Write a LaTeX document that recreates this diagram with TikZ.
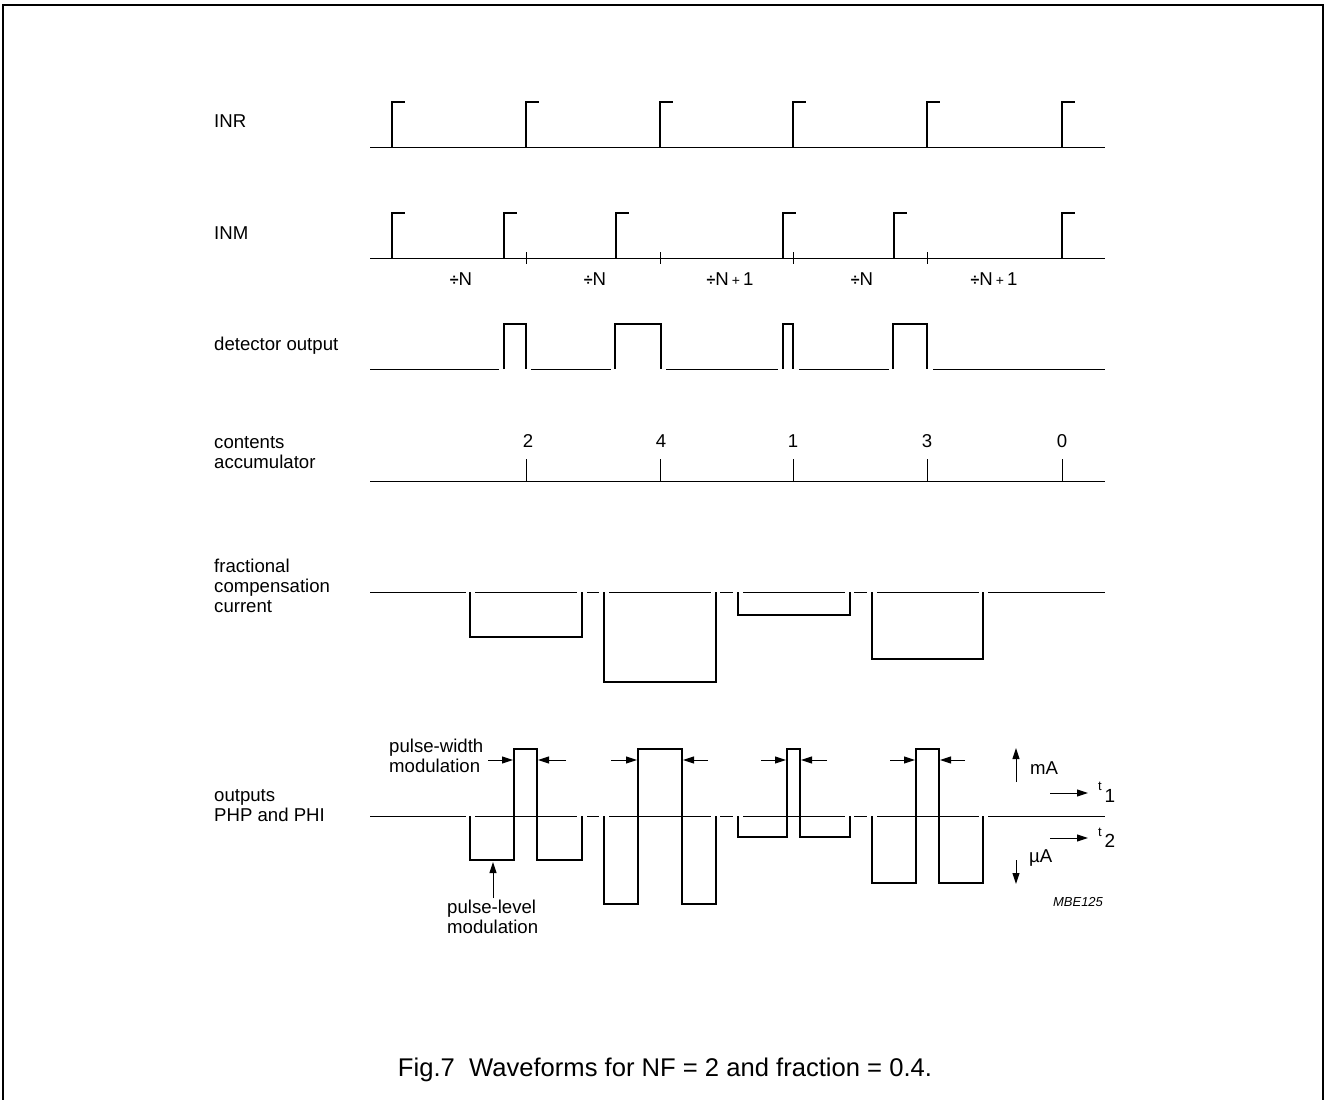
\documentclass[tikz,border=0pt]{standalone}
\usepackage{fontspec}
\setmainfont{Liberation Sans}
\usetikzlibrary{arrows.meta}
\newcommand{\dvs}{{\fontsize{16}{16}\selectfont\bfseries ÷}}
\newcommand{\spl}{{\fontsize{14}{14}\selectfont +}}
\begin{document}
\begin{tikzpicture}[x=1pt,y=-1pt,
  wthin/.style={line width=1pt},
  wthick/.style={line width=2.7pt, line join=miter},
  lab/.style={font=\fontsize{18.6}{20}\selectfont, inner sep=0pt, anchor=base west},
  num/.style={font=\fontsize{18.6}{20}\selectfont, inner sep=0pt, anchor=base},
  arr/.style={line width=1pt, -{Triangle[length=11pt,width=7pt]}}]
\useasboundingbox (0,0) rectangle (1326,1100);
% frame
\draw[line width=2pt] (3,1100) -- (3,5) -- (1323,5) -- (1323,1100);

% ---------- labels ----------
\node[lab] (lINR) at (214,127) {INR};
\node[lab] (lINM) at (214,239) {INM};
\node[lab] (lDET) at (214,350) {detector output};
\node[lab] (lCON1) at (214,448) {contents};
\node[lab] (lCON2) at (214,468) {accumulator};
\node[lab] (lFR1) at (214,572) {fractional};
\node[lab] (lFR2) at (214,592) {compensation};
\node[lab] (lFR3) at (214,612) {current};
\node[lab] (lOUT1) at (214,801) {outputs};
\node[lab] (lOUT2) at (214,821) {PHP and PHI};

% ---------- INR ----------
\draw[wthin] (370,147) -- (1105,147);
\foreach \x in {392,526,660,793,927,1062}
  \draw[wthick] (\x,147) -- (\x,102) -- (\x+13,102);

% ---------- INM ----------
\draw[wthin] (370,258) -- (1105,258);
\foreach \x in {392,504,616,783,894,1062}
  \draw[wthick] (\x,258) -- (\x,213) -- (\x+13,213);
\foreach \x in {526,660,793,927}
  \draw[wthin] (\x,252) -- (\x,264);
\node[num] (dN1) at (461,285) {\dvs N};
\node[num] (dN2) at (595,285) {\dvs N};
\node[num] (dN3) at (730,285) {\dvs N\,\spl\,1};
\node[num] (dN4) at (862,285) {\dvs N};
\node[num] (dN5) at (994,285) {\dvs N\,\spl\,1};

% ---------- detector output ----------
\foreach \a/\b in {370/499,531/611,666/778,799/889,933/1105}
  \draw[wthin] (\a,369) -- (\b,369);
\foreach \a/\b in {504/526,615/661,783/793,893/927}
  \draw[wthick] (\a,369) -- (\a,324) -- (\b,324) -- (\b,369);

% ---------- contents accumulator ----------
\draw[wthin] (370,481) -- (1105,481);
\foreach \x in {526,660,793,927,1062}
  \draw[wthin] (\x,459) -- (\x,481);
\node[num] (n2) at (528,447) {2};
\node[num] (n4) at (661,447) {4};
\node[num] (n1) at (793,447) {1};
\node[num] (n3) at (927,447) {3};
\node[num] (n0) at (1062,447) {0};

% ---------- fractional compensation current ----------
\foreach \a/\b in {370/466,475/577,587/599,609/711,720/733,743/845,854/867,877/979,988/1105}
  \draw[wthin] (\a,592) -- (\b,592);
\foreach \a/\b/\d in {470/582/637,604/716/682,738/850/615,872/983/659}
  \draw[wthick] (\a,592) -- (\a,\d) -- (\b,\d) -- (\b,592);

% ---------- outputs ----------
\foreach \a/\b in {370/466,475/577,587/599,609/711,720/733,743/845,854/867,877/979,988/1105}
  \draw[wthin] (\a,816) -- (\b,816);
\foreach \a/\p/\q/\b/\d in {470/514/537/582/860,604/638/682/716/904,738/787/800/850/837,872/916/939/983/883}
  \draw[wthick] (\a,816) -- (\a,\d) -- (\p,\d) -- (\p,749) -- (\q,749) -- (\q,\d) -- (\b,\d) -- (\b,816);

% pulse-width arrows
\foreach \s/\e in {488/513,611/637,761/786,890/915,566/538,708/683,827/801,965/940}
  \draw[arr] (\s,760) -- (\e,760);
\node[lab] (pw1) at (389,752) {pulse-width};
\node[lab] (pw2) at (389,772) {modulation};

% pulse-level arrow
\node[lab] (pl1) at (447,913) {pulse-level};
\node[lab] (pl2) at (447,933) {modulation};
\coordinate (plS) at (493,898);
\coordinate (plE) at (493,862);
\draw[arr] (plS) -- (plE);

% mA / uA / t1 / t2
\coordinate (mAs) at (1016,782); \coordinate (mAe) at (1016,748);
\coordinate (uAs) at (1016,860); \coordinate (uAe) at (1016,884);
\draw[arr] (mAs) -- (mAe);
\draw[arr] (uAs) -- (uAe);
\node[lab, anchor=west] (mA) at (1030,768) {mA};
\node[lab, anchor=west] (uA) at (1029,858) {µA};
\coordinate (t1s) at (1050,793); \coordinate (t1e) at (1088,793);
\coordinate (t2s) at (1050,838); \coordinate (t2e) at (1088,838);
\draw[arr] (t1s) -- (t1e);
\draw[arr] (t2s) -- (t2e);
\node[inner sep=0pt, font=\fontsize{13}{13}\selectfont] (t1a) at (1100,786) {t};
\node[inner sep=0pt, font=\fontsize{19}{19}\selectfont] (t1b) at (1110,796) {1};
\node[inner sep=0pt, font=\fontsize{13}{13}\selectfont] (t2a) at (1100,832) {t};
\node[inner sep=0pt, font=\fontsize{19}{19}\selectfont] (t2b) at (1110,841) {2};

\node[inner sep=0pt, font=\fontsize{13}{13}\selectfont\itshape] (code) at (1078,902) {MBE125};

% caption
\node[inner sep=0pt, anchor=base, font=\fontsize{25.6}{26}\selectfont] (cap) at (665,1076) {Fig.7\ \ Waveforms for NF = 2 and fraction = 0.4.};
\end{tikzpicture}
\end{document}
